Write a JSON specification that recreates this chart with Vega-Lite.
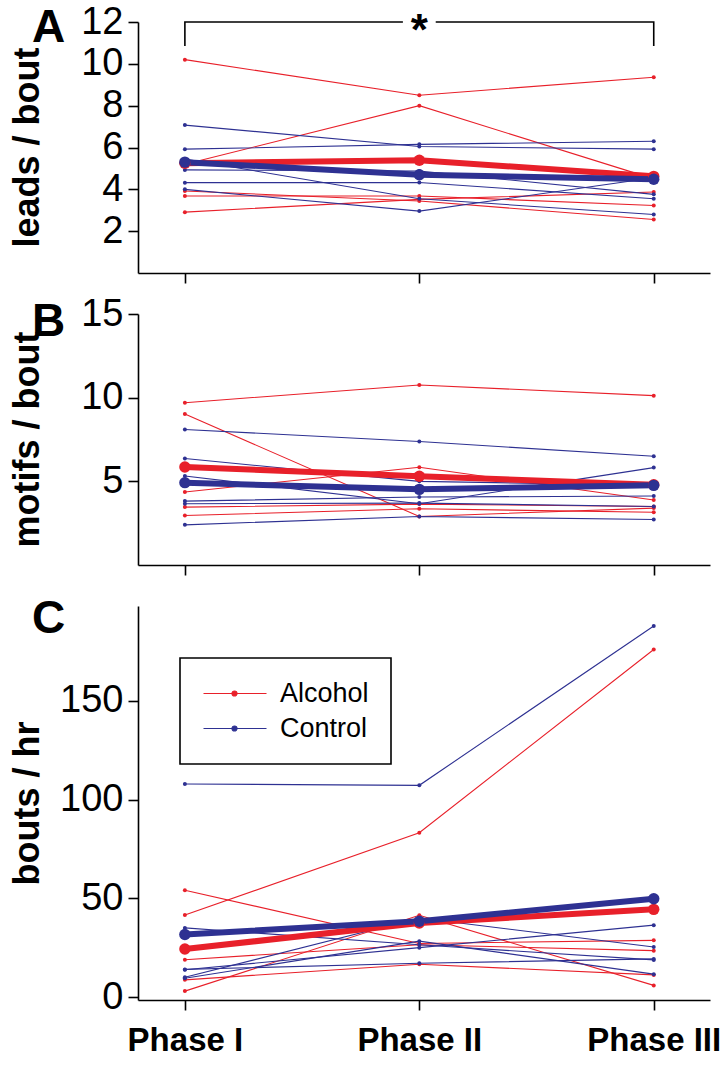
{
  "$schema": "https://vega.github.io/schema/vega-lite/v6.json",
  "background": "white",
  "padding": {"left": 9, "top": 3, "right": 5, "bottom": 5},
  "bounds": "flush",
  "spacing": 41,
  "resolve": {"scale": {"color": "independent"}, "legend": {"color": "independent"}},
  "config": {
    "view": {"stroke": null},
    "font": "Liberation Sans",
    "axis": {
      "grid": false, "domainColor": "black", "domainWidth": 1.6, "tickColor": "black", "tickWidth": 1.6, "tickSize": 10,
      "labelFont": "Liberation Sans", "labelFontSize": 38, "labelColor": "black", "labelPadding": 5,
      "labelFlush": false, "labelOverlap": false, "labelBound": false,
      "titleFont": "Liberation Sans", "titleFontSize": 36, "titleFontWeight": "bold", "titleColor": "black"
    },
    "title": {"font": "Liberation Sans", "fontSize": 46, "fontWeight": "bold", "color": "black", "anchor": "start", "frame": "group", "baseline": "middle", "offset": 0}
  },
  "datasets": {
    "ind": [
      {"panel": "A", "group": "Alcohol", "id": "a1", "phase": 1, "value": 10.2},
      {"panel": "A", "group": "Alcohol", "id": "a1", "phase": 2, "value": 8.5},
      {"panel": "A", "group": "Alcohol", "id": "a1", "phase": 3, "value": 9.36},
      {"panel": "A", "group": "Alcohol", "id": "a2", "phase": 1, "value": 5.2},
      {"panel": "A", "group": "Alcohol", "id": "a2", "phase": 2, "value": 8.0},
      {"panel": "A", "group": "Alcohol", "id": "a2", "phase": 3, "value": 4.5},
      {"panel": "A", "group": "Alcohol", "id": "a3", "phase": 1, "value": 3.92},
      {"panel": "A", "group": "Alcohol", "id": "a3", "phase": 2, "value": 3.44},
      {"panel": "A", "group": "Alcohol", "id": "a3", "phase": 3, "value": 2.56},
      {"panel": "A", "group": "Alcohol", "id": "a4", "phase": 1, "value": 3.68},
      {"panel": "A", "group": "Alcohol", "id": "a4", "phase": 2, "value": 3.68},
      {"panel": "A", "group": "Alcohol", "id": "a4", "phase": 3, "value": 3.23},
      {"panel": "A", "group": "Alcohol", "id": "a5", "phase": 1, "value": 2.91},
      {"panel": "A", "group": "Alcohol", "id": "a5", "phase": 2, "value": 3.52},
      {"panel": "A", "group": "Alcohol", "id": "a5", "phase": 3, "value": 3.87},
      {"panel": "A", "group": "Control", "id": "c1", "phase": 1, "value": 7.07},
      {"panel": "A", "group": "Control", "id": "c1", "phase": 2, "value": 6.05},
      {"panel": "A", "group": "Control", "id": "c1", "phase": 3, "value": 5.92},
      {"panel": "A", "group": "Control", "id": "c2", "phase": 1, "value": 5.92},
      {"panel": "A", "group": "Control", "id": "c2", "phase": 2, "value": 6.15},
      {"panel": "A", "group": "Control", "id": "c2", "phase": 3, "value": 6.3},
      {"panel": "A", "group": "Control", "id": "c3", "phase": 1, "value": 5.45},
      {"panel": "A", "group": "Control", "id": "c3", "phase": 2, "value": 3.55},
      {"panel": "A", "group": "Control", "id": "c3", "phase": 3, "value": 2.8},
      {"panel": "A", "group": "Control", "id": "c4", "phase": 1, "value": 4.0},
      {"panel": "A", "group": "Control", "id": "c4", "phase": 2, "value": 2.96},
      {"panel": "A", "group": "Control", "id": "c4", "phase": 3, "value": 4.55},
      {"panel": "A", "group": "Control", "id": "c5", "phase": 1, "value": 4.93},
      {"panel": "A", "group": "Control", "id": "c5", "phase": 2, "value": 4.88},
      {"panel": "A", "group": "Control", "id": "c5", "phase": 3, "value": 3.76},
      {"panel": "A", "group": "Control", "id": "c6", "phase": 1, "value": 4.32},
      {"panel": "A", "group": "Control", "id": "c6", "phase": 2, "value": 4.33},
      {"panel": "A", "group": "Control", "id": "c6", "phase": 3, "value": 3.55},

      {"panel": "B", "group": "Alcohol", "id": "a1", "phase": 1, "value": 9.7},
      {"panel": "B", "group": "Alcohol", "id": "a1", "phase": 2, "value": 10.76},
      {"panel": "B", "group": "Alcohol", "id": "a1", "phase": 3, "value": 10.12},
      {"panel": "B", "group": "Alcohol", "id": "a2", "phase": 1, "value": 9.02},
      {"panel": "B", "group": "Alcohol", "id": "a2", "phase": 2, "value": 2.9},
      {"panel": "B", "group": "Alcohol", "id": "a2", "phase": 3, "value": 3.4},
      {"panel": "B", "group": "Alcohol", "id": "a3", "phase": 1, "value": 4.36},
      {"panel": "B", "group": "Alcohol", "id": "a3", "phase": 2, "value": 5.84},
      {"panel": "B", "group": "Alcohol", "id": "a3", "phase": 3, "value": 3.88},
      {"panel": "B", "group": "Alcohol", "id": "a4", "phase": 1, "value": 3.46},
      {"panel": "B", "group": "Alcohol", "id": "a4", "phase": 2, "value": 3.64},
      {"panel": "B", "group": "Alcohol", "id": "a4", "phase": 3, "value": 3.5},
      {"panel": "B", "group": "Alcohol", "id": "a5", "phase": 1, "value": 2.96},
      {"panel": "B", "group": "Alcohol", "id": "a5", "phase": 2, "value": 3.36},
      {"panel": "B", "group": "Alcohol", "id": "a5", "phase": 3, "value": 3.15},
      {"panel": "B", "group": "Control", "id": "c1", "phase": 1, "value": 8.1},
      {"panel": "B", "group": "Control", "id": "c1", "phase": 2, "value": 7.38},
      {"panel": "B", "group": "Control", "id": "c1", "phase": 3, "value": 6.5},
      {"panel": "B", "group": "Control", "id": "c2", "phase": 1, "value": 6.36},
      {"panel": "B", "group": "Control", "id": "c2", "phase": 2, "value": 5.0},
      {"panel": "B", "group": "Control", "id": "c2", "phase": 3, "value": 4.76},
      {"panel": "B", "group": "Control", "id": "c3", "phase": 1, "value": 5.32},
      {"panel": "B", "group": "Control", "id": "c3", "phase": 2, "value": 3.66},
      {"panel": "B", "group": "Control", "id": "c3", "phase": 3, "value": 5.82},
      {"panel": "B", "group": "Control", "id": "c4", "phase": 1, "value": 3.82},
      {"panel": "B", "group": "Control", "id": "c4", "phase": 2, "value": 4.06},
      {"panel": "B", "group": "Control", "id": "c4", "phase": 3, "value": 4.12},
      {"panel": "B", "group": "Control", "id": "c5", "phase": 1, "value": 3.66},
      {"panel": "B", "group": "Control", "id": "c5", "phase": 2, "value": 3.7},
      {"panel": "B", "group": "Control", "id": "c5", "phase": 3, "value": 3.5},
      {"panel": "B", "group": "Control", "id": "c6", "phase": 1, "value": 2.4},
      {"panel": "B", "group": "Control", "id": "c6", "phase": 2, "value": 2.9},
      {"panel": "B", "group": "Control", "id": "c6", "phase": 3, "value": 2.72},

      {"panel": "C", "group": "Alcohol", "id": "a1", "phase": 1, "value": 41.5},
      {"panel": "C", "group": "Alcohol", "id": "a1", "phase": 2, "value": 83.2},
      {"panel": "C", "group": "Alcohol", "id": "a1", "phase": 3, "value": 176},
      {"panel": "C", "group": "Alcohol", "id": "a2", "phase": 1, "value": 3.0},
      {"panel": "C", "group": "Alcohol", "id": "a2", "phase": 2, "value": 41.4},
      {"panel": "C", "group": "Alcohol", "id": "a2", "phase": 3, "value": 5.9},
      {"panel": "C", "group": "Alcohol", "id": "a3", "phase": 1, "value": 54.1},
      {"panel": "C", "group": "Alcohol", "id": "a3", "phase": 2, "value": 27.1},
      {"panel": "C", "group": "Alcohol", "id": "a3", "phase": 3, "value": 28.7},
      {"panel": "C", "group": "Alcohol", "id": "a4", "phase": 1, "value": 18.9},
      {"panel": "C", "group": "Alcohol", "id": "a4", "phase": 2, "value": 26.5},
      {"panel": "C", "group": "Alcohol", "id": "a4", "phase": 3, "value": 23.5},
      {"panel": "C", "group": "Alcohol", "id": "a5", "phase": 1, "value": 8.7},
      {"panel": "C", "group": "Alcohol", "id": "a5", "phase": 2, "value": 16.6},
      {"panel": "C", "group": "Alcohol", "id": "a5", "phase": 3, "value": 11.2},
      {"panel": "C", "group": "Control", "id": "c1", "phase": 1, "value": 107.9},
      {"panel": "C", "group": "Control", "id": "c1", "phase": 2, "value": 107.2},
      {"panel": "C", "group": "Control", "id": "c1", "phase": 3, "value": 187.9},
      {"panel": "C", "group": "Control", "id": "c2", "phase": 1, "value": 35.0},
      {"panel": "C", "group": "Control", "id": "c2", "phase": 2, "value": 26.5},
      {"panel": "C", "group": "Control", "id": "c2", "phase": 3, "value": 18.8},
      {"panel": "C", "group": "Control", "id": "c3", "phase": 1, "value": 10.0},
      {"panel": "C", "group": "Control", "id": "c3", "phase": 2, "value": 40.0},
      {"panel": "C", "group": "Control", "id": "c3", "phase": 3, "value": 25.3},
      {"panel": "C", "group": "Control", "id": "c4", "phase": 1, "value": 13.8},
      {"panel": "C", "group": "Control", "id": "c4", "phase": 2, "value": 25.0},
      {"panel": "C", "group": "Control", "id": "c4", "phase": 3, "value": 36.4},
      {"panel": "C", "group": "Control", "id": "c5", "phase": 1, "value": 14.0},
      {"panel": "C", "group": "Control", "id": "c5", "phase": 2, "value": 17.1},
      {"panel": "C", "group": "Control", "id": "c5", "phase": 3, "value": 19.3},
      {"panel": "C", "group": "Control", "id": "c6", "phase": 1, "value": 9.5},
      {"panel": "C", "group": "Control", "id": "c6", "phase": 2, "value": 28.3},
      {"panel": "C", "group": "Control", "id": "c6", "phase": 3, "value": 11.6}
    ],
    "means": [
      {"panel": "A", "group": "Alcohol", "phase": 1, "value": 5.25},
      {"panel": "A", "group": "Alcohol", "phase": 2, "value": 5.39},
      {"panel": "A", "group": "Alcohol", "phase": 3, "value": 4.62},
      {"panel": "A", "group": "Control", "phase": 1, "value": 5.3},
      {"panel": "A", "group": "Control", "phase": 2, "value": 4.7},
      {"panel": "A", "group": "Control", "phase": 3, "value": 4.48},
      {"panel": "B", "group": "Alcohol", "phase": 1, "value": 5.86},
      {"panel": "B", "group": "Alcohol", "phase": 2, "value": 5.3},
      {"panel": "B", "group": "Alcohol", "phase": 3, "value": 4.8},
      {"panel": "B", "group": "Control", "phase": 1, "value": 4.92},
      {"panel": "B", "group": "Control", "phase": 2, "value": 4.52},
      {"panel": "B", "group": "Control", "phase": 3, "value": 4.76},
      {"panel": "C", "group": "Alcohol", "phase": 1, "value": 24.3},
      {"panel": "C", "group": "Alcohol", "phase": 2, "value": 37.5},
      {"panel": "C", "group": "Alcohol", "phase": 3, "value": 44.4},
      {"panel": "C", "group": "Control", "phase": 1, "value": 31.7},
      {"panel": "C", "group": "Control", "phase": 2, "value": 38.4},
      {"panel": "C", "group": "Control", "phase": 3, "value": 49.8}
    ],
    "bracket": [
      {"seg": "L", "phase": 1, "value": 10.85},
      {"seg": "L", "phase": 1, "value": 12},
      {"seg": "L", "phase": 1.93, "value": 12},
      {"seg": "R", "phase": 2.07, "value": 12},
      {"seg": "R", "phase": 3, "value": 12},
      {"seg": "R", "phase": 3, "value": 10.85}
    ],
    "star": [{"phase": 2, "value": 12, "label": "*"}]
  },
  "vconcat": [
    {
      "width": 572, "height": 251,
      "title": {"text": "A", "dx": -106, "dy": 53},
      "encoding": {
        "x": {"field": "phase", "type": "quantitative", "scale": {"domain": [0.8, 3.24], "nice": false, "zero": false},
              "axis": {"values": [1, 2, 3], "labels": false, "title": null}},
        "y": {"field": "value", "type": "quantitative", "scale": {"domain": [0, 12], "nice": false, "zero": false},
              "axis": {"values": [2, 4, 6, 8, 10, 12], "title": "leads / bout", "titleX": -111, "titleY": 125, "titleBaseline": "middle", "titleAlign": "center", "titleAngle": 270}}
      },
      "layer": [
        {"data": {"name": "ind"}, "transform": [{"filter": "datum.panel == 'A'"}],
         "mark": {"type": "line", "strokeWidth": 1.1, "clip": false},
         "encoding": {"color": {"field": "group", "type": "nominal", "scale": {"domain": ["Alcohol", "Control"], "range": ["#E8202A", "#2E3192"]}, "legend": null}, "detail": {"field": "id"}}},
        {"data": {"name": "ind"}, "transform": [{"filter": "datum.panel == 'A'"}],
         "mark": {"type": "circle", "size": 16, "opacity": 1},
         "encoding": {"color": {"field": "group", "type": "nominal", "legend": null}}},
        {"data": {"name": "means"}, "transform": [{"filter": "datum.panel == 'A'"}],
         "mark": {"type": "line", "strokeWidth": 6},
         "encoding": {"color": {"field": "group", "type": "nominal", "legend": null}}},
        {"data": {"name": "means"}, "transform": [{"filter": "datum.panel == 'A'"}],
         "mark": {"type": "circle", "size": 130, "opacity": 1},
         "encoding": {"color": {"field": "group", "type": "nominal", "legend": null}}},
        {"data": {"name": "bracket"},
         "mark": {"type": "line", "color": "black", "strokeWidth": 1.6, "clip": false},
         "encoding": {"detail": {"field": "seg"}, "order": {"value": null}}},
        {"data": {"name": "star"},
         "mark": {"type": "text", "fontSize": 44, "fontWeight": "bold", "baseline": "middle", "dy": 10, "color": "black"},
         "encoding": {"text": {"field": "label"}}}
      ]
    },
    {
      "width": 572, "height": 251,
      "title": {"text": "B", "dx": -106, "dy": 55},
      "encoding": {
        "x": {"field": "phase", "type": "quantitative", "scale": {"domain": [0.8, 3.24], "nice": false, "zero": false},
              "axis": {"values": [1, 2, 3], "labels": false, "title": null}},
        "y": {"field": "value", "type": "quantitative", "scale": {"domain": [0, 15], "nice": false, "zero": false},
              "axis": {"values": [5, 10, 15], "title": "motifs / bout", "titleX": -111, "titleY": 125, "titleBaseline": "middle", "titleAlign": "center", "titleAngle": 270}}
      },
      "layer": [
        {"data": {"name": "ind"}, "transform": [{"filter": "datum.panel == 'B'"}],
         "mark": {"type": "line", "strokeWidth": 1.1},
         "encoding": {"color": {"field": "group", "type": "nominal", "scale": {"domain": ["Alcohol", "Control"], "range": ["#E8202A", "#2E3192"]}, "legend": null}, "detail": {"field": "id"}}},
        {"data": {"name": "ind"}, "transform": [{"filter": "datum.panel == 'B'"}],
         "mark": {"type": "circle", "size": 16, "opacity": 1},
         "encoding": {"color": {"field": "group", "type": "nominal", "legend": null}}},
        {"data": {"name": "means"}, "transform": [{"filter": "datum.panel == 'B'"}],
         "mark": {"type": "line", "strokeWidth": 6},
         "encoding": {"color": {"field": "group", "type": "nominal", "legend": null}}},
        {"data": {"name": "means"}, "transform": [{"filter": "datum.panel == 'B'"}],
         "mark": {"type": "circle", "size": 130, "opacity": 1},
         "encoding": {"color": {"field": "group", "type": "nominal", "legend": null}}}
      ]
    },
    {
      "width": 572, "height": 394,
      "title": {"text": "C", "dx": -106, "dy": 41},
      "encoding": {
        "x": {"field": "phase", "type": "quantitative", "scale": {"domain": [0.8, 3.24], "nice": false, "zero": false},
              "axis": {"values": [1, 2, 3], "title": null, "labelExpr": "datum.value == 1 ? 'Phase I' : (datum.value == 2 ? 'Phase II' : 'Phase III')", "labelFontSize": 33, "labelFontWeight": "bold", "labelPadding": 14}},
        "y": {"field": "value", "type": "quantitative", "scale": {"domain": [-1.5, 198], "nice": false, "zero": false},
              "axis": {"values": [0, 50, 100, 150], "title": "bouts / hr", "titleX": -111, "titleY": 197, "titleBaseline": "middle", "titleAlign": "center", "titleAngle": 270}}
      },
      "layer": [
        {"data": {"name": "ind"}, "transform": [{"filter": "datum.panel == 'C'"}],
         "mark": {"type": "line", "strokeWidth": 1.1},
         "encoding": {"detail": {"field": "id"},
           "color": {"field": "group", "type": "nominal", "scale": {"domain": ["Alcohol", "Control"], "range": ["#E8202A", "#2E3192"]},
           "legend": {"orient": "none", "legendX": 42, "legendY": 52, "title": null, "strokeColor": "black", "padding": 22,
             "symbolType": "M-1.2,0H5.1M2.15,0A0.25,0.25 0 1,1 1.65,0A0.25,0.25 0 1,1 2.15,0Z", "symbolSize": 400,
             "symbolStrokeWidth": 1.2, "labelFontSize": 27, "labelFont": "Liberation Sans", "labelColor": "black", "labelOffset": 51, "rowPadding": 7,
             "encode": {"symbols": {"update": {
               "fill": {"signal": "datum.value == 'Alcohol' ? '#E8202A' : '#2E3192'"},
               "stroke": {"signal": "datum.value == 'Alcohol' ? '#E8202A' : '#2E3192'"},
               "strokeWidth": {"value": 1.2}, "opacity": {"value": 1}}},
               "legend": {"update": {"strokeWidth": {"value": 1.6}}}}}}}},
        {"data": {"name": "ind"}, "transform": [{"filter": "datum.panel == 'C'"}],
         "mark": {"type": "circle", "size": 16, "opacity": 1},
         "encoding": {"color": {"field": "group", "type": "nominal"}}},
        {"data": {"name": "means"}, "transform": [{"filter": "datum.panel == 'C'"}],
         "mark": {"type": "line", "strokeWidth": 6},
         "encoding": {"color": {"field": "group", "type": "nominal"}}},
        {"data": {"name": "means"}, "transform": [{"filter": "datum.panel == 'C'"}],
         "mark": {"type": "circle", "size": 130, "opacity": 1},
         "encoding": {"color": {"field": "group", "type": "nominal"}}}
      ]
    }
  ]
}
